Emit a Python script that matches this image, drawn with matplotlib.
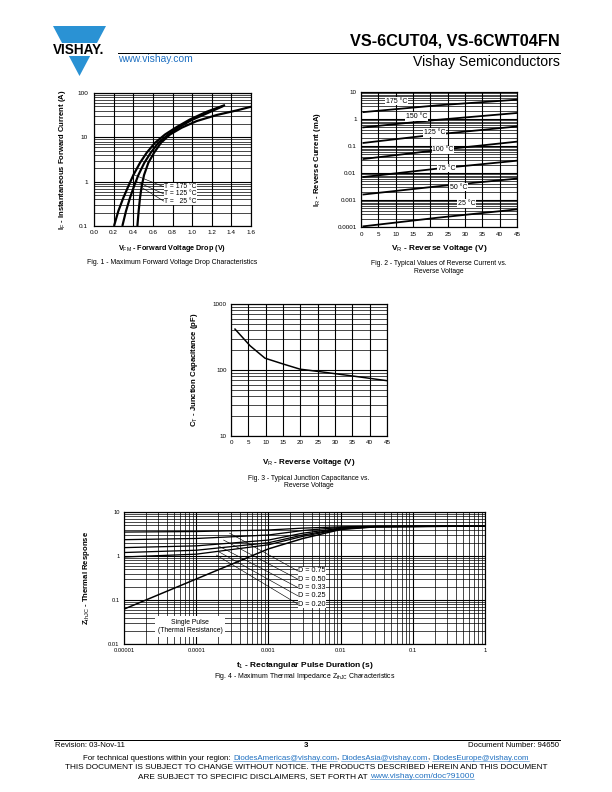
import numpy as np
import matplotlib
matplotlib.use('Agg')
import matplotlib.pyplot as plt
from matplotlib.lines import Line2D
from matplotlib.patches import Polygon, Rectangle
from matplotlib.ticker import FixedLocator, LogLocator, NullFormatter

plt.rcParams['font.family'] = ['Liberation Sans', 'DejaVu Sans']
plt.rcParams['mathtext.fontset'] = 'custom'
plt.rcParams['mathtext.rm'] = 'Liberation Sans'
plt.rcParams['mathtext.it'] = 'Liberation Sans:italic'
plt.rcParams['mathtext.bf'] = 'Liberation Sans:bold'

W, H = 612, 792

# ---- Fig. 1 : forward voltage drop ----
vf_175 = [0.204, 0.248, 0.299, 0.350, 0.401, 0.469, 0.537, 0.622, 0.724, 0.843, 0.979, 1.149, 1.335]
if_175 = [0.1, 0.217, 0.433, 0.79, 1.41, 2.67, 4.49, 7.55, 11.6, 17.1, 25.4, 37.8, 53.6]
vf_125 = [0.289, 0.326, 0.367, 0.408, 0.452, 0.513, 0.578, 0.656, 0.758, 0.870, 0.996, 1.149, 1.318]
if_125 = [0.1, 0.217, 0.433, 0.79, 1.41, 2.67, 4.49, 7.55, 11.6, 17.1, 24.6, 34.6, 50.9]
vf_25 = [0.442, 0.455, 0.469, 0.486, 0.510, 0.554, 0.612, 0.683, 0.775, 0.894, 1.047, 1.251, 1.455, 1.600]
if_25 = [0.1, 0.217, 0.433, 0.79, 1.41, 2.67, 4.49, 7.55, 11.6, 16.5, 23.3, 31.9, 40.5, 49.0]
fig1_labels = ['T = 175 \u00b0C', 'T = 125 \u00b0C', 'T =   25 \u00b0C']
fig1_lead_from = [(0.40, 1.45), (0.435, 1.0), (0.486, 0.74)]
fig1_lead_to_i = [0.77, 0.53, 0.365]
fig1_xticks = [0.0, 0.2, 0.4, 0.6, 0.8, 1.0, 1.2, 1.4, 1.6]

# ---- Fig. 2 : reverse current ----
vr_2 = [0.7, 22, 45]
ir_curves = {
    '175 \u00b0C': [1.8, 3.2, 5.2],
    '150 \u00b0C': [0.49, 0.93, 1.67],
    '125 \u00b0C': [0.13, 0.27, 0.53],
    '100 \u00b0C': [0.033, 0.07, 0.145],
    '75 \u00b0C': [0.0071, 0.0145, 0.0286],
    '50 \u00b0C': [0.0016, 0.0032, 0.0062],
    '25 \u00b0C': [0.000106, 0.00022, 0.00045],
}
ir_label_pos = [(10.3, 4.5), (16.1, 1.24), (21.3, 0.315), (23.7, 0.0716),
                (24.7, 0.015), (28.1, 0.00295), (30.5, 0.00075)]

# ---- Fig. 3 : junction capacitance ----
vr_3 = [1.15, 5.5, 9.8, 15.1, 19.9, 25.2, 34.8, 44.9]
ct_3 = [417, 233, 151, 123, 103, 95, 81.5, 69]

# ---- Fig. 4 : thermal impedance ----
t_pulse = [1e-5, 1e-4, 1e-3, 3e-3, 1e-2, 3e-2, 1]
zth_single = [0.062, 0.30, 1.45, 2.5, 4.0, 4.6, 4.8]
zth_duty = {
    'D = 0.75': [3.5, 3.6, 3.9, 4.3, 4.6, 4.75, 4.8],
    'D = 0.50': [2.35, 2.5, 3.0, 3.8, 4.45, 4.7, 4.8],
    'D = 0.33': [1.55, 1.7, 2.3, 3.3, 4.3, 4.65, 4.8],
    'D = 0.25': [1.2, 1.35, 2.0, 3.0, 4.2, 4.65, 4.8],
    'D = 0.20': [0.95, 1.1, 1.8, 2.8, 4.1, 4.6, 4.8],
}
duty_lead_from = [(2.9e-4, 3.3), (2.4e-4, 2.3), (2.1e-4, 1.65), (2.0e-4, 1.28), (1.9e-4, 1.05)]
duty_label_z = [0.459, 0.298, 0.193, 0.125, 0.081]
duty_label_t = 2.6e-3


fig = plt.figure(figsize=(W / 72, H / 72), dpi=72)


def ftext(x, y, s, **kw):
    return fig.text(x / W, 1 - y / H, s, **kw)


def px_axes(x0, y0, x1, y1):
    return fig.add_axes([x0 / W, 1 - y1 / H, (x1 - x0) / W, (y1 - y0) / H])


def log_grid(ax, axis='y'):
    loc = LogLocator(base=10, subs=np.arange(2, 10), numticks=100)
    if axis == 'y':
        ax.yaxis.set_minor_locator(loc)
        ax.yaxis.set_minor_formatter(NullFormatter())
    else:
        ax.xaxis.set_minor_locator(loc)
        ax.xaxis.set_minor_formatter(NullFormatter())


def style(ax, size=6):
    ax.tick_params(which='both', length=0, labelsize=size, pad=4.5)
    for s in ax.spines.values():
        s.set_linewidth(1.2)
    ax.grid(which='major', color='k', lw=1.1)
    ax.grid(which='minor', color='k', lw=0.7)
    ax.set_axisbelow(True)


box = dict(facecolor='white', edgecolor='none', pad=0.6)

# ---------------- Fig. 1 ----------------
ax1 = px_axes(94, 93, 251, 226)
ax1.set_yscale('log')
ax1.set_xlim(0, 1.6)
ax1.set_ylim(0.1, 100)
log_grid(ax1)
ax1.xaxis.set_major_locator(FixedLocator(fig1_xticks))
ax1.set_xticklabels(['%.1f' % v for v in fig1_xticks])
ax1.yaxis.set_major_locator(FixedLocator([0.1, 1, 10, 100]))
ax1.set_yticklabels(['0.1', '1', '10', '100'])
style(ax1, 6.4)
ax1.tick_params(axis='y', pad=6)
for v, i in [(vf_175, if_175), (vf_125, if_125), (vf_25, if_25)]:
    ax1.plot(v, i, color='k', lw=2.2, solid_capstyle='butt')
for (v0, i0), i1, lab in zip(fig1_lead_from, fig1_lead_to_i, fig1_labels):
    ax1.plot([v0, 0.71], [i0, i1], color='k', lw=0.6)
    ax1.text(0.715, i1, lab, fontsize=6.8, va='center', ha='left', bbox=box)

ftext(63, 160, r'I$_\mathrm{F}$ - Instantaneous Forward Current (A)', rotation=90,
      ha='center', va='center', fontsize=7.6, weight='bold')
ftext(172, 248, r'V$_\mathrm{FM}$ - Forward Voltage Drop (V)', ha='center', va='center',
      fontsize=7.3, weight='bold')
ftext(172, 263, 'Fig. 1 - Maximum Forward Voltage Drop Characteristics', ha='center',
      va='center', fontsize=6.9)

# ---------------- Fig. 2 ----------------
ax2 = px_axes(361, 92, 517, 227)
ax2.set_yscale('log')
ax2.set_xlim(0, 45)
ax2.set_ylim(0.0001, 10)
log_grid(ax2)
ax2.xaxis.set_major_locator(FixedLocator(range(0, 46, 5)))
ax2.yaxis.set_major_locator(FixedLocator([0.0001, 0.001, 0.01, 0.1, 1, 10]))
ax2.set_yticklabels(['0.0001', '0.001', '0.01', '0.1', '1', '10'])
style(ax2, 6.2)
for (lab, vals), (lx, ly) in zip(ir_curves.items(), ir_label_pos):
    ax2.plot(vr_2, vals, color='k', lw=1.8)
    ax2.text(lx, ly, lab, fontsize=7, ha='center', va='center', bbox=box)

ftext(317, 160, r'I$_\mathrm{R}$ - Reverse Current (mA)', rotation=90, ha='center',
      va='center', fontsize=7.8, weight='bold')
ftext(439, 249, r'V$_\mathrm{R}$ - Reverse Voltage (V)', ha='center', va='center',
      fontsize=8.2, weight='bold')
ftext(439, 267.5, 'Fig. 2 - Typical Values of Reverse Current vs.\nReverse Voltage',
      ha='center', va='center', fontsize=6.8, linespacing=1.15)

# ---------------- Fig. 3 ----------------
ax3 = px_axes(231, 304, 387, 436)
ax3.set_yscale('log')
ax3.set_xlim(0, 45)
ax3.set_ylim(10, 1000)
log_grid(ax3)
ax3.xaxis.set_major_locator(FixedLocator(range(0, 46, 5)))
ax3.yaxis.set_major_locator(FixedLocator([10, 100, 1000]))
ax3.set_yticklabels(['10', '100', '1000'])
style(ax3, 6.2)
ax3.plot(vr_3, ct_3, color='k', lw=1.5)

ftext(195, 370, r'C$_\mathrm{T}$ - Junction Capacitance (pF)', rotation=90, ha='center',
      va='center', fontsize=7.8, weight='bold')
ftext(309, 462, r'V$_\mathrm{R}$ - Reverse Voltage (V)', ha='center', va='center',
      fontsize=8.0, weight='bold')
ftext(309, 482, 'Fig. 3 - Typical Junction Capacitance vs.\nReverse Voltage',
      ha='center', va='center', fontsize=6.8, linespacing=1.15)

# ---------------- Fig. 4 ----------------
ax4 = px_axes(124, 512, 485, 644)
ax4.set_xscale('log')
ax4.set_yscale('log')
ax4.set_xlim(1e-5, 1)
ax4.set_ylim(0.01, 10)
log_grid(ax4, 'x')
log_grid(ax4, 'y')
xt = [1e-5, 1e-4, 1e-3, 1e-2, 1e-1, 1]
ax4.xaxis.set_major_locator(FixedLocator(xt))
ax4.set_xticklabels(['0.00001', '0.0001', '0.001', '0.01', '0.1', '1'])
ax4.yaxis.set_major_locator(FixedLocator([0.01, 0.1, 1, 10]))
ax4.set_yticklabels(['0.01', '0.1', '1', '10'])
style(ax4, 5.8)
ax4.plot(t_pulse, zth_single, color='k', lw=1.5)
for (lab, vals), (t0, z0), zl in zip(zth_duty.items(), duty_lead_from, duty_label_z):
    ax4.plot(t_pulse, vals, color='k', lw=1.3)
    ax4.plot([t0, duty_label_t * 0.98], [z0, zl], color='k', lw=0.6)
    ax4.text(duty_label_t, zl, lab, fontsize=7.3, ha='left', va='center', bbox=box)
ax4.text(8.2e-5, 0.025, 'Single Pulse\n(Thermal Resistance)', fontsize=6.7, ha='center',
         va='center', linespacing=1.3,
         bbox=dict(facecolor='white', edgecolor='none', pad=3))

ftext(87, 578, r'Z$_\mathrm{thJC}$ - Thermal Response', rotation=90, ha='center',
      va='center', fontsize=7.8, weight='bold')
ftext(305, 665.5, r't$_\mathrm{1}$ - Rectangular Pulse Duration (s)', ha='center', va='center',
      fontsize=8.4, weight='bold')
ftext(305, 677, r'Fig. 4 - Maximum Thermal Impedance Z$_\mathrm{thJC}$ Characteristics',
      ha='center', va='center', fontsize=6.9)

# ---------------- header ----------------
logo_blue = '#2a92d4'
link_blue = '#1f70c1'
fig.add_artist(Polygon([[53 / W, 1 - 26 / H], [106 / W, 1 - 26 / H], [79.5 / W, 1 - 76 / H]],
                       closed=True, transform=fig.transFigure, color=logo_blue, lw=0))
fig.add_artist(Rectangle((46 / W, 1 - 56 / H), 64 / W, 13 / H, transform=fig.transFigure,
                         color='white', lw=0))
ftext(78.5, 49.5, 'VISHAY.', fontsize=13.5, weight='bold', ha='center', va='center')
fig.add_artist(Line2D([118 / W, 560 / W], [1 - 52.5 / H] * 2, color='k', lw=1.0))
ftext(560, 41, 'VS-6CUT04, VS-6CWT04FN', fontsize=16.2, weight='bold', ha='right',
      va='center')
ftext(118, 59, 'www.vishay.com', fontsize=10.3, color=link_blue, ha='left', va='center')
ftext(560, 62, 'Vishay Semiconductors', fontsize=14, ha='right', va='center')

# ---------------- footer ----------------
fig.add_artist(Line2D([54 / W, 560 / W], [1 - 740 / H] * 2, color='k', lw=1.0))
ftext(55, 745.5, 'Revision: 03-Nov-11', fontsize=7.7, ha='left', va='center')
ftext(306, 745.5, '3', fontsize=7.7, weight='bold', ha='center', va='center')
ftext(559, 745.5, 'Document Number: 94650', fontsize=7.7, ha='right', va='center')

rend = fig.canvas.get_renderer()


def width_px(s, size):
    t1 = fig.text(0, 0, s + '|', fontsize=size)
    t2 = fig.text(0, 0, '|', fontsize=size)
    w = t1.get_window_extent(renderer=rend).width - t2.get_window_extent(renderer=rend).width
    t1.remove()
    t2.remove()
    return w


def rich_line(pieces, xc, y, size):
    full = ''.join(p[0] for p in pieces)
    x0 = xc - width_px(full, size) / 2
    prefix = ''
    for s, link in pieces:
        x = x0 + (width_px(prefix, size) if prefix else 0)
        w = width_px(s, size)
        ftext(x, y, s, fontsize=size, ha='left', va='baseline',
              color=link_blue if link else 'k')
        if link:
            fig.add_artist(Line2D([x / W, (x + w) / W], [1 - (y + 1.3) / H] * 2,
                                  color=link_blue, lw=0.5))
        prefix += s


rich_line([('For technical questions within your region: ', False),
           ('DiodesAmericas@vishay.com', True), (', ', False),
           ('DiodesAsia@vishay.com', True), (', ', False),
           ('DiodesEurope@vishay.com', True)], 306, 759.5, 7.9)
ftext(306, 767.5, 'THIS DOCUMENT IS SUBJECT TO CHANGE WITHOUT NOTICE. THE PRODUCTS DESCRIBED '
      'HEREIN AND THIS DOCUMENT', fontsize=8.2, ha='center', va='center')
rich_line([('ARE SUBJECT TO SPECIFIC DISCLAIMERS, SET FORTH AT ', False),
           ('www.vishay.com/doc?91000', True)], 306, 778, 8.2)

fig.savefig('out.png', dpi=72)
